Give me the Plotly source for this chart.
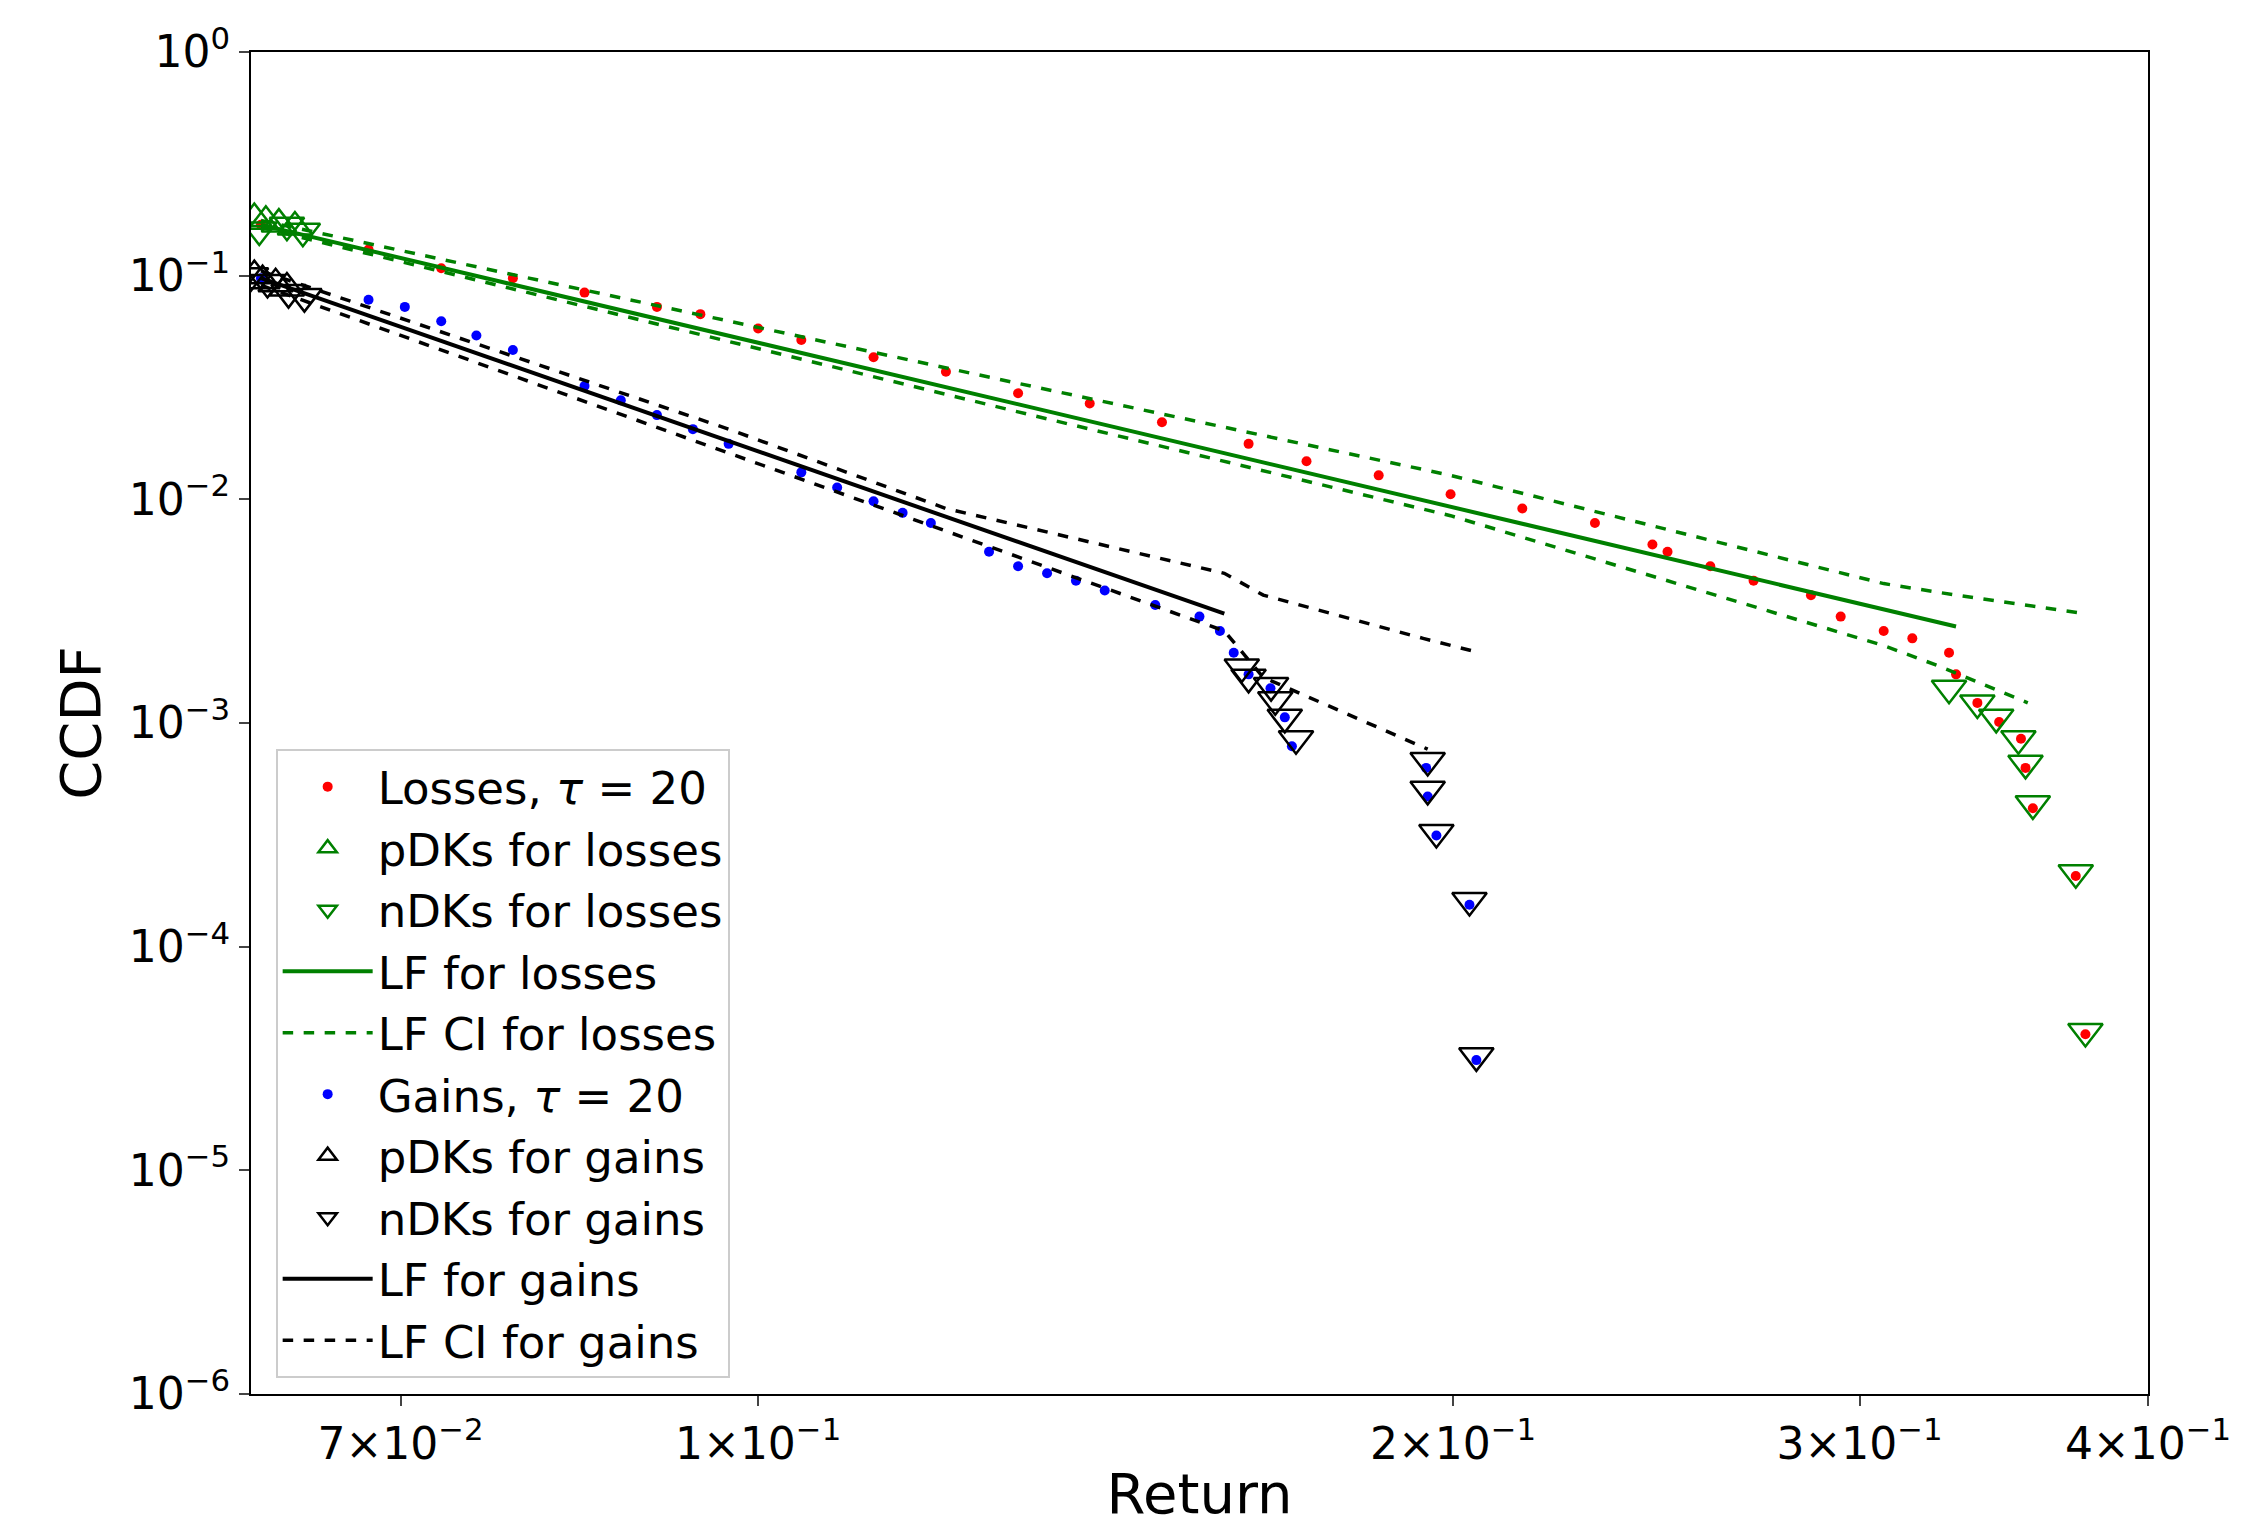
import plotly.graph_objects as go
import numpy as np

# ---- data ----
loss_x = [0.0609, 0.0678, 0.0729, 0.0783, 0.0841, 0.0904, 0.0944, 0.1, 0.1044, 0.1122, 0.1206, 0.1296,
          0.1392, 0.1496, 0.1631, 0.1728, 0.1857, 0.1995, 0.2143, 0.2304, 0.244, 0.2477, 0.2585, 0.2699,
          0.2858, 0.2944, 0.3073, 0.3162, 0.328, 0.3303, 0.3374, 0.3448, 0.3524, 0.354, 0.3566, 0.3722, 0.3758]
loss_y = [0.1687, 0.131, 0.108, 0.0975, 0.084, 0.0725, 0.0673, 0.058, 0.0516, 0.0432, 0.0372, 0.0298,
          0.0268, 0.0221, 0.0177, 0.0148, 0.0128, 0.01054, 0.0091, 0.00784, 0.00628, 0.00583, 0.00502,
          0.00433, 0.00373, 0.00299, 0.00258, 0.00239, 0.00206, 0.00165, 0.00123, 0.00101, 0.00085,
          0.00063, 0.000416, 0.000207, 0.0000406]
loss_lf_x = [0.0609, 0.3303]
loss_lf_y = [0.1687, 0.0027]
loss_ci_hi_x = [0.0609, 0.1296, 0.1995, 0.3073, 0.3303, 0.3758]
loss_ci_hi_y = [0.1766, 0.033, 0.0128, 0.0042, 0.00373, 0.00308]
loss_ci_lo_x = [0.0609, 0.1296, 0.1995, 0.3073, 0.3255, 0.3548]
loss_ci_lo_y = [0.164, 0.0246, 0.00845, 0.00222, 0.00178, 0.00123]
loss_pdk_x = [0.0605, 0.0612, 0.062, 0.063]
loss_pdk_y = [0.18, 0.175, 0.17, 0.165]
loss_ndk_x = [0.0608, 0.0625, 0.0635, 0.328, 0.3374, 0.3438, 0.3515, 0.354, 0.3566, 0.3722, 0.3758]
loss_ndk_y = [0.16, 0.168, 0.158, 0.00143, 0.00123, 0.00106, 0.00085, 0.00066, 0.000435, 0.000214, 0.0000418]

gain_x = [0.0609, 0.0678, 0.0703, 0.0729, 0.0755, 0.0783, 0.0841, 0.0872, 0.0904, 0.0937, 0.0971, 0.1044,
          0.1082, 0.1122, 0.1155, 0.1188, 0.1259, 0.1296, 0.1334, 0.1373, 0.1413, 0.1486, 0.1553, 0.1585,
          0.1607, 0.1631, 0.1667, 0.1691, 0.1703, 0.1947, 0.195, 0.1967, 0.2033, 0.2047]
gain_y = [0.0975, 0.078, 0.0725, 0.0625, 0.054, 0.0465, 0.0321, 0.0277, 0.0238, 0.0206, 0.0177, 0.0132,
          0.0113, 0.0098, 0.0087, 0.00784, 0.00583, 0.00502, 0.00467, 0.00433, 0.00391, 0.00337, 0.00299,
          0.00258, 0.00206, 0.00165, 0.00143, 0.00106, 0.000787, 0.00063, 0.000469, 0.000314, 0.000154,
          0.0000311]
gain_lf_x = [0.0609, 0.1592]
gain_lf_y = [0.0975, 0.00308]
gain_ci_hi_x = [0.0609, 0.0971, 0.1206, 0.1592, 0.1655, 0.1941, 0.2054]
gain_ci_hi_y = [0.105, 0.0206, 0.0091, 0.00467, 0.00373, 0.00239, 0.00206]
gain_ci_lo_x = [0.0609, 0.1592, 0.1655, 0.195]
gain_ci_lo_y = [0.0906, 0.00258, 0.0016, 0.000764]
gain_pdk_x = [0.0605, 0.061, 0.0618, 0.0625]
gain_pdk_y = [0.1, 0.095, 0.092, 0.088]
gain_ndk_x = [0.0603, 0.0613, 0.0626, 0.0636, 0.162, 0.1631, 0.1668, 0.1675, 0.1691, 0.171, 0.195, 0.195,
              0.1967, 0.2033, 0.2047]
gain_ndk_y = [0.1, 0.0933, 0.084, 0.0806, 0.00178, 0.0016, 0.00147, 0.00127, 0.00106, 0.00085, 0.00068,
              0.000505, 0.000324, 0.000161, 0.0000325]

x_ticks = [0.07, 0.1, 0.2, 0.3, 0.4]
x_ticktext = ["7×10<sup>−2</sup>", "1×10<sup>−1</sup>", "2×10<sup>−1</sup>", "3×10<sup>−1</sup>", "4×10<sup>−1</sup>"]
y_ticks = [1e-6, 1e-5, 1e-4, 1e-3, 1e-2, 1e-1, 1]
y_ticktext = ["10<sup>−6</sup>", "10<sup>−5</sup>", "10<sup>−4</sup>", "10<sup>−3</sup>", "10<sup>−2</sup>",
              "10<sup>−1</sup>", "10<sup>0</sup>"]

GREEN = "green"
TRI = 30

fig = go.Figure()
# losses
fig.add_trace(go.Scatter(x=loss_x, y=loss_y, mode="markers", name="Losses, <i>τ</i> = 20",
                         marker=dict(color="red", size=10)))
fig.add_trace(go.Scatter(x=loss_pdk_x, y=loss_pdk_y, mode="markers", name="pDKs for losses",
                         marker=dict(symbol="triangle-up-open", color=GREEN, size=TRI, line=dict(width=2.5))))
fig.add_trace(go.Scatter(x=loss_ndk_x, y=loss_ndk_y, mode="markers", name="nDKs for losses",
                         marker=dict(symbol="triangle-down-open", color=GREEN, size=TRI, line=dict(width=2.5))))
fig.add_trace(go.Scatter(x=loss_lf_x, y=loss_lf_y, mode="lines", name="LF for losses",
                         line=dict(color=GREEN, width=4)))
fig.add_trace(go.Scatter(x=loss_ci_hi_x, y=loss_ci_hi_y, mode="lines", name="LF CI for losses",
                         line=dict(color=GREEN, width=3.5, dash="dash")))
fig.add_trace(go.Scatter(x=loss_ci_lo_x, y=loss_ci_lo_y, mode="lines", showlegend=False,
                         line=dict(color=GREEN, width=3.5, dash="dash")))
# gains
fig.add_trace(go.Scatter(x=gain_x, y=gain_y, mode="markers", name="Gains, <i>τ</i> = 20",
                         marker=dict(color="blue", size=10)))
fig.add_trace(go.Scatter(x=gain_pdk_x, y=gain_pdk_y, mode="markers", name="pDKs for gains",
                         marker=dict(symbol="triangle-up-open", color="black", size=TRI, line=dict(width=2.5))))
fig.add_trace(go.Scatter(x=gain_ndk_x, y=gain_ndk_y, mode="markers", name="nDKs for gains",
                         marker=dict(symbol="triangle-down-open", color="black", size=TRI, line=dict(width=2.5))))
fig.add_trace(go.Scatter(x=gain_lf_x, y=gain_lf_y, mode="lines", name="LF for gains",
                         line=dict(color="black", width=4)))
fig.add_trace(go.Scatter(x=gain_ci_hi_x, y=gain_ci_hi_y, mode="lines", name="LF CI for gains",
                         line=dict(color="black", width=3.5, dash="dash")))
fig.add_trace(go.Scatter(x=gain_ci_lo_x, y=gain_ci_lo_y, mode="lines", showlegend=False,
                         line=dict(color="black", width=3.5, dash="dash")))

axis_common = dict(type="log", showgrid=False, zeroline=False, showline=True, linecolor="black",
                   linewidth=2, mirror=True, ticks="outside", ticklen=10, tickwidth=2,
                   tickfont=dict(size=44, color="black"))
fig.update_xaxes(**axis_common, range=[np.log10(0.0603), np.log10(0.4)],
                 tickvals=x_ticks, ticktext=x_ticktext,
                 title=dict(text="Return", font=dict(size=56, color="black"), standoff=6))
fig.update_yaxes(**axis_common, range=[-6, 0], tickvals=y_ticks, ticktext=y_ticktext,
                 title=dict(text="CCDF", font=dict(size=56, color="black"), standoff=10))

fig.update_layout(
    width=2253, height=1526,
    plot_bgcolor="white", paper_bgcolor="white",
    font=dict(family="DejaVu Sans", color="black"),
    margin=dict(l=243, r=113, t=40, b=140),
    legend=dict(x=0.013, y=0.012, xanchor="left", yanchor="bottom",
                bgcolor="rgba(255,255,255,0.85)", bordercolor="#cccccc", borderwidth=2,
                font=dict(size=45), tracegroupgap=0, itemwidth=90),
)

fig.write_html("out.html")
